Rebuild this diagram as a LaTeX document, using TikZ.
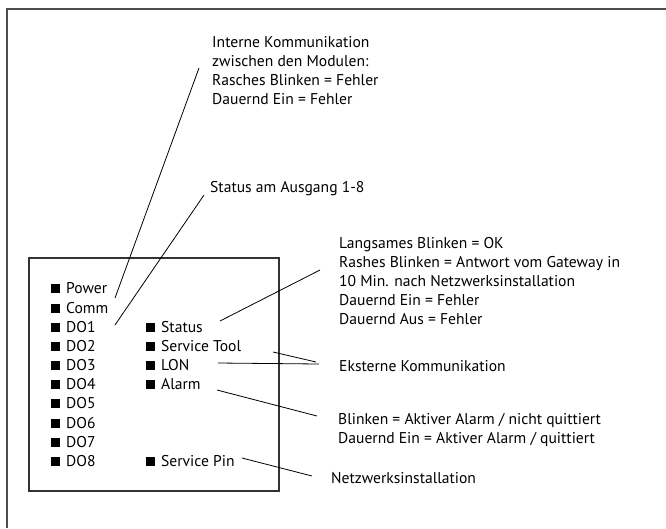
\documentclass[tikz,border=0pt]{standalone}
\usepackage{fontspec}
\setmainfont{PT Sans}
\newcommand{\ledsq}{\rule{8.5pt}{9pt}\hspace{6.5pt}}
\begin{document}
\begin{tikzpicture}[x=1pt,y=-1pt,
  txt/.style={anchor=base west,inner sep=0pt,font=\fontsize{15.6}{19}\selectfont,align=left},
  led/.style={txt},
  lead/.style={line width=0.8pt,black},
  frame/.style={line width=1.4pt,draw=black!70},
  box/.style={line width=1.1pt,draw=black!80}]
\useasboundingbox (0,0) rectangle (666,528);
% outer frame
\draw[frame] (666,9) -- (7,9) -- (7,528);
% module box
\draw[box] (29,258) rectangle (279,491);
% LEDs column 1
\node[led] (power) at (51,293) {\ledsq Power};
\node[led] (comm)  at (51,313) {\ledsq Comm};
\node[led] (do1) at (51,332) {\ledsq DO1};
\node[led] (do2) at (51,351) {\ledsq DO2};
\node[led] (do3) at (51,370) {\ledsq DO3};
\node[led] (do4) at (51,389) {\ledsq DO4};
\node[led] (do5) at (51,408) {\ledsq DO5};
\node[led] (do6) at (51,428) {\ledsq DO6};
\node[led] (do7) at (51,447) {\ledsq DO7};
\node[led] (do8) at (51,466) {\ledsq DO8};
% LEDs column 2
\node[led] (status) at (146,332) {\ledsq Status};
\node[led] (stool)  at (146,351) {\ledsq Service Tool};
\node[led] (lon)    at (146,370) {\ledsq LON};
\node[led] (alarm)  at (146,389) {\ledsq Alarm};
\node[led] (spin)   at (146,466) {\ledsq Service Pin};
% annotations (base anchor = baseline of last line)
\node[txt] (intern) at (212,104) {Interne Kommunikation\\zwischen den Modulen:\\Rasches Blinken = Fehler\\Dauernd Ein = Fehler};
\node[txt] (ausg) at (210,192) {Status am Ausgang 1-8};
\node[txt] (lang) at (339,324) {Langsames Blinken = OK\\Rashes Blinken = Antwort vom Gateway in\\10 Min. nach Netzwerksinstallation\\Dauernd Ein = Fehler\\Dauernd Aus = Fehler};
\node[txt] (ext) at (339,371) {Eksterne Kommunikation};
\node[txt] (blink) at (338,443) {Blinken = Aktiver Alarm / nicht quittiert\\Dauernd Ein = Aktiver Alarm / quittiert};
\node[txt] (netz) at (331,483) {Netzwerksinstallation};
% connector end points
\coordinate (a1) at (115,298); \coordinate (a2) at (199,68);
\coordinate (b1) at (115,325); \coordinate (b2) at (204,195);
\coordinate (c1) at (220,321); \coordinate (c2) at (320,270);
\coordinate (d1) at (273,352); \coordinate (d2) at (316,362);
\coordinate (e1) at (218,363); \coordinate (e2) at (319,364);
\coordinate (f1) at (217,390); \coordinate (f2) at (317,416);
\coordinate (g1) at (242,458); \coordinate (g2) at (312,476);
\draw[lead] (a1) -- (a2);
\draw[lead] (b1) -- (b2);
\draw[lead] (c1) -- (c2);
\draw[lead] (d1) -- (d2);
\draw[lead] (e1) -- (e2);
\draw[lead] (f1) -- (f2);
\draw[lead] (g1) -- (g2);
\end{tikzpicture}
\end{document}
